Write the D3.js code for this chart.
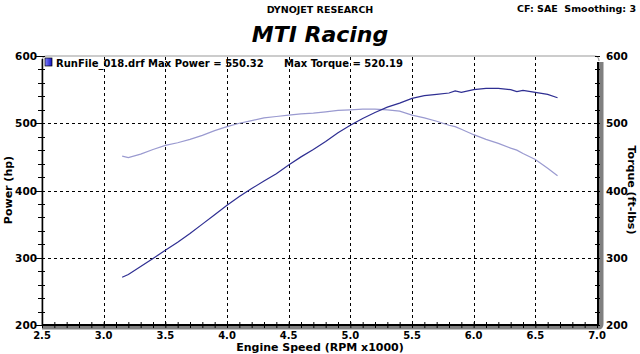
<!DOCTYPE html>
<html>
<head>
<meta charset="utf-8">
<script src="https://cdn.jsdelivr.net/npm/d3@7"></script>
<style>
  body { margin: 0; background: #fff; }
  text { font-family: "DejaVu Sans", Verdana, sans-serif; font-weight: bold; }
</style>
</head>
<body>
<div id="chart"></div>
<script>
// engine speed (rpm x1000)
var rpm = [3.15, 3.2, 3.3, 3.4, 3.5, 3.6, 3.7, 3.8, 3.9, 4.0, 4.1, 4.2, 4.3, 4.4, 4.5,
           4.6, 4.7, 4.8, 4.9, 5.0, 5.1, 5.2, 5.3, 5.4, 5.5, 5.6, 5.7, 5.8, 5.85, 5.9,
           6.0, 6.1, 6.2, 6.3, 6.35, 6.4, 6.5, 6.6, 6.68];
var power = [271, 275, 287, 299, 311, 323, 336, 350, 364, 378, 391, 403, 414, 425, 438,
             450, 461, 473, 486, 497, 507, 516, 524, 530, 537, 541, 543, 545, 548, 546,
             550, 552, 552, 550, 547, 549, 546, 543, 538];
var torque = [451, 449, 454, 461, 467, 471, 476, 482, 489, 495, 500, 504, 508, 510, 512,
              514, 515, 517, 519, 520, 521, 521, 520, 518, 512, 508, 503, 497, 495, 491,
              483, 476, 470, 463, 460, 455, 446, 433, 422];
var xTicks = [2.5, 3.0, 3.5, 4.0, 4.5, 5.0, 5.5, 6.0, 6.5, 7.0];
var yTicks = [200, 300, 400, 500, 600];

(function () {

	var width = 640, height = 354;
	var pl = 42, pr = 597, pt = 56, pb = 325;

	var svg = d3.select("#chart").append("svg")
		.attr("width", width)
		.attr("height", height);

	var x = d3.scaleLinear().domain([2.5, 7.0]).range([pl, pr]);
	var y = d3.scaleLinear().domain([200, 600]).range([pb, pt]);

	// frame: shadow on bottom/right, thin grey top
	svg.append("path")
		.attr("d", "M" + pl + "," + (pb + 2) + " L" + (pr + 1) + "," + (pb + 2) +
			" Q" + (pr + 4) + "," + (pb + 2) + " " + (pr + 4) + "," + (pb - 1) +
			" L" + (pr + 4) + "," + (pt + 6))
		.attr("fill", "none")
		.attr("stroke", "#808080")
		.attr("stroke-width", 5);
	svg.append("path")
		.attr("d", "M" + pl + "," + pb + " L" + pl + "," + (pt + 5) +
			" Q" + pl + "," + pt + " " + (pl + 5) + "," + pt +
			" L" + (pr - 3) + "," + pt + " Q" + (pr + 2) + "," + pt + " " + (pr + 2) + "," + (pt + 5))
		.attr("fill", "none")
		.attr("stroke", "#9a9a9a")
		.attr("stroke-width", 1.2);

	// dashed grid
	svg.append("g").selectAll("line")
		.data(xTicks.slice(1, -1))
		.enter().append("line")
		.attr("x1", function(d) { return Math.round(x(d)) + 0.5; })
		.attr("x2", function(d) { return Math.round(x(d)) + 0.5; })
		.attr("y1", pt + 1).attr("y2", pb)
		.attr("stroke", "#000").attr("stroke-dasharray", "3,3");
	svg.append("g").selectAll("line")
		.data(yTicks.slice(1, -1))
		.enter().append("line")
		.attr("y1", function(d) { return Math.round(y(d)) + 0.5; })
		.attr("y2", function(d) { return Math.round(y(d)) + 0.5; })
		.attr("x1", pl).attr("x2", pr)
		.attr("stroke", "#000").attr("stroke-dasharray", "3,3");

	// axis lines
	svg.append("line").attr("x1", pl).attr("x2", pr + 2)
		.attr("y1", pb).attr("y2", pb).attr("stroke", "#000").attr("stroke-width", 2);
	svg.append("line").attr("x1", pl + 0.5).attr("x2", pl + 0.5)
		.attr("y1", pt + 3).attr("y2", pb).attr("stroke", "#000").attr("stroke-width", 1.5);
	svg.append("line").attr("x1", pr + 1).attr("x2", pr + 1)
		.attr("y1", pt + 6).attr("y2", pb).attr("stroke", "#000").attr("stroke-width", 2);

	// minor ticks
	var xAxis = d3.axisBottom(x).tickValues(d3.range(25, 71).map(function(d) { return d / 10; }))
		.tickSize(3).tickFormat("");
	var gx = svg.append("g").attr("transform", "translate(0," + (pb - 3) + ")").call(xAxis);
	gx.select(".domain").remove();
	gx.selectAll("line").attr("stroke", "#000").attr("y2", 6);

	var yMinor = d3.range(200, 601, 20);
	svg.append("g").selectAll("line")
		.data(yMinor)
		.enter().append("line")
		.attr("x1", function(d) { return d % 100 === 0 ? pl - 6 : pl - 4; })
		.attr("x2", pl + 3)
		.attr("y1", function(d) { return Math.round(y(d)) + 0.5; })
		.attr("y2", function(d) { return Math.round(y(d)) + 0.5; })
		.attr("stroke", "#000");
	svg.append("g").selectAll("line")
		.data(yMinor)
		.enter().append("line")
		.attr("x1", pr - 2)
		.attr("x2", pr + 3)
		.attr("y1", function(d) { return Math.round(y(d)) + 0.5; })
		.attr("y2", function(d) { return Math.round(y(d)) + 0.5; })
		.attr("stroke", "#000");

	// tick labels
	svg.append("g").selectAll("text")
		.data(xTicks)
		.enter().append("text")
		.attr("x", function(d) { return x(d); })
		.attr("y", pb + 14)
		.attr("text-anchor", "middle")
		.attr("font-size", "10px")
		.text(function(d) { return d.toFixed(1); });
	svg.append("g").selectAll("text")
		.data(yTicks)
		.enter().append("text")
		.attr("x", 37)
		.attr("y", function(d) { return y(d) + 4; })
		.attr("text-anchor", "end")
		.attr("font-size", "10.5px")
		.text(function(d) { return d; });
	svg.append("g").selectAll("text")
		.data(yTicks)
		.enter().append("text")
		.attr("x", 606)
		.attr("y", function(d) { return y(d) + 4; })
		.attr("font-size", "10.5px")
		.text(function(d) { return d; });

	// curves
	var curve = d3.line()
		.x(function(d, i) { return x(rpm[i]); })
		.y(function(d) { return y(d); });

	svg.append("path")
		.datum(torque)
		.attr("d", curve)
		.attr("fill", "none")
		.attr("stroke", "#9a9ad0")
		.attr("stroke-width", 1.2);
	svg.append("path")
		.datum(power)
		.attr("d", curve)
		.attr("fill", "none")
		.attr("stroke", "#2e2e92")
		.attr("stroke-width", 1.2);

	// legend
	var grad = svg.append("defs").append("linearGradient").attr("id", "lg")
		.attr("x1", 0).attr("x2", 1);
	grad.append("stop").attr("offset", 0).attr("stop-color", "#8080ff");
	grad.append("stop").attr("offset", 1).attr("stop-color", "#1010c0");
	svg.append("rect").attr("x", 45).attr("y", 58).attr("width", 7).attr("height", 8)
		.attr("fill", "url(#lg)").attr("stroke", "#000").attr("stroke-width", 0.7);
	svg.append("text").attr("x", 56).attr("y", 67).attr("font-size", "10px")
		.text("RunFile_018.drf Max Power = 550.32");
	svg.append("text").attr("x", 284).attr("y", 67).attr("font-size", "10px")
		.text("Max Torque = 520.19");

	// titles
	svg.append("text").attr("x", 320).attr("y", 13).attr("text-anchor", "middle")
		.attr("font-size", "9.5px").text("DYNOJET RESEARCH");
	svg.append("text").attr("x", 636).attr("y", 12).attr("text-anchor", "end")
		.attr("font-size", "9.5px").style("white-space", "pre").text("CF: SAE  Smoothing: 3");
	svg.append("text").attr("x", 320).attr("y", 42).attr("text-anchor", "middle")
		.attr("font-size", "22px").attr("font-style", "italic").text("MTI Racing");
	svg.append("text").attr("x", 320).attr("y", 351).attr("text-anchor", "middle")
		.attr("font-size", "11px").text("Engine Speed (RPM x1000)");
	svg.append("text").attr("transform", "translate(12,190) rotate(-90)")
		.attr("text-anchor", "middle").attr("font-size", "11px").text("Power (hp)");
	svg.append("text").attr("transform", "translate(628,190) rotate(90)")
		.attr("text-anchor", "middle").attr("font-size", "11px").text("Torque (ft-lbs)");

})();
</script>
</body>
</html>
